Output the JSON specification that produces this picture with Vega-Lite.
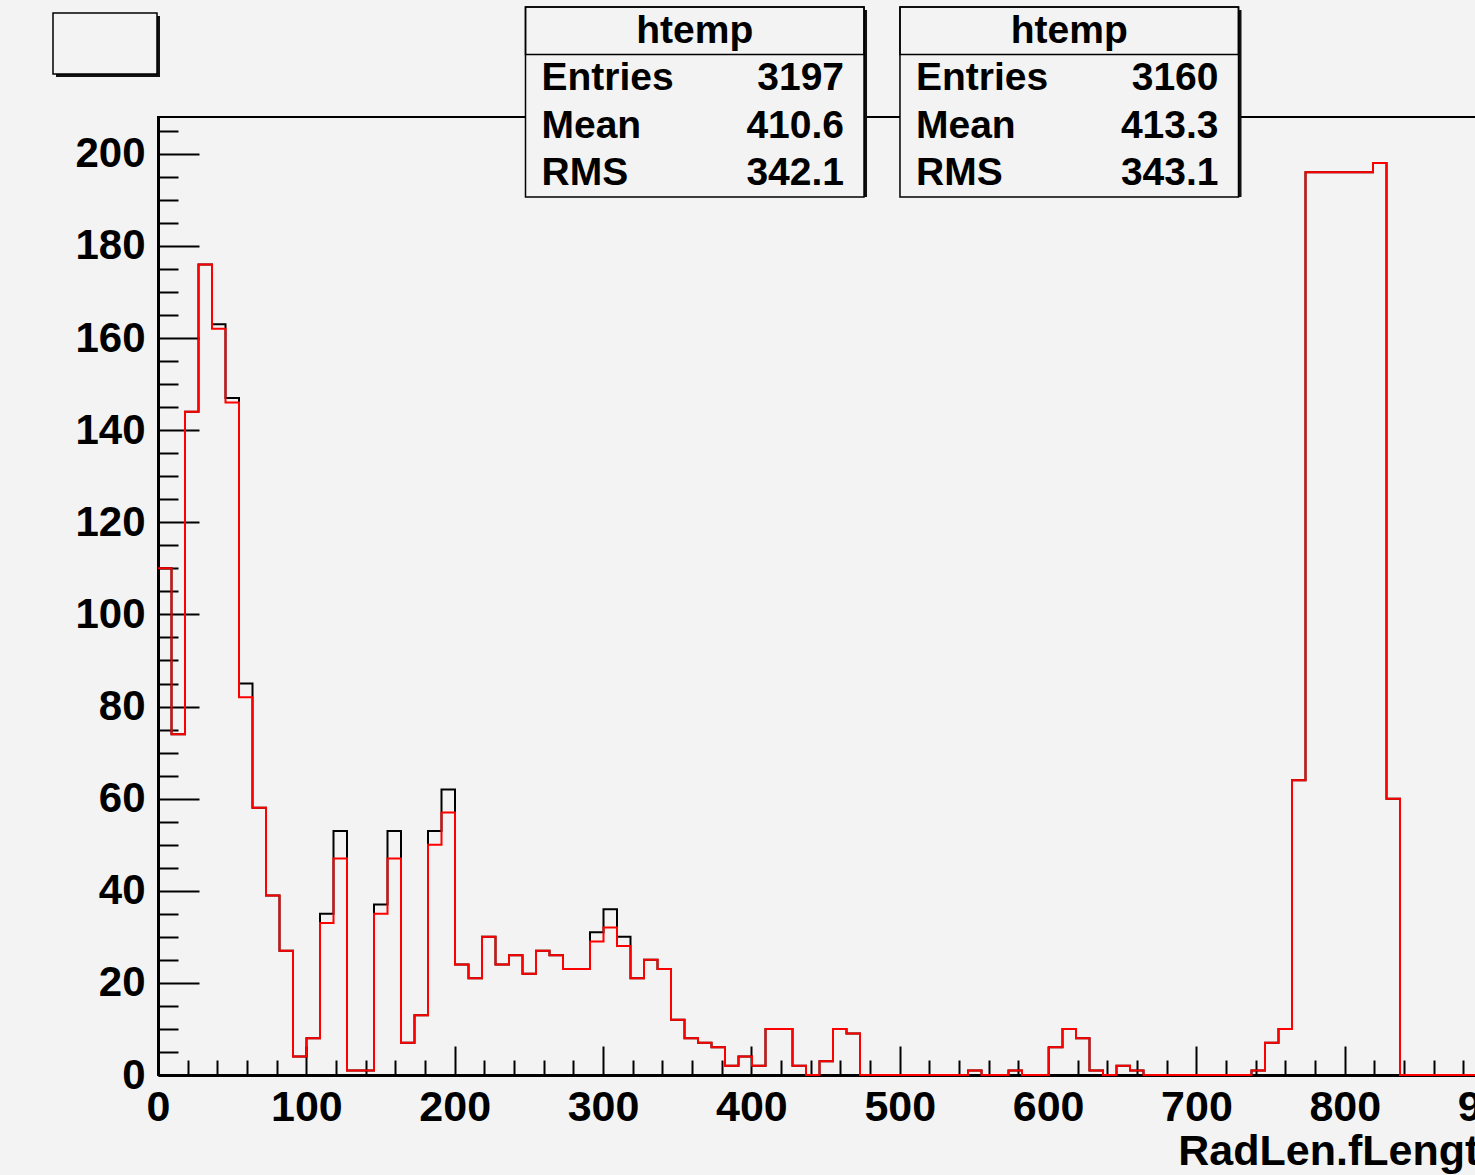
{
  "$schema": "https://vega.github.io/schema/vega-lite/v6.json",
  "autosize": {"type": "none"},
  "padding": {"left": 158, "top": 117, "right": 0, "bottom": 100},
  "width": 1350,
  "height": 958,
  "background": "#f3f3f3",
  "config": {"view": {"stroke": "#000000", "strokeWidth": 2}, "font": "Liberation Sans"},
  "resolve": {"scale": {"x": "independent", "y": "independent"}, "axis": {"x": "independent", "y": "independent"}},
  "layer": [
    {
      "data": {"values": [
        {"x": 0, "black": 110, "red": 110}, {"x": 9.1, "black": 74, "red": 74}, {"x": 18.2, "black": 144, "red": 144},
        {"x": 27.3, "black": 176, "red": 176}, {"x": 36.4, "black": 163, "red": 162}, {"x": 45.5, "black": 147, "red": 146},
        {"x": 54.6, "black": 85, "red": 82}, {"x": 63.7, "black": 58, "red": 58}, {"x": 72.8, "black": 39, "red": 39},
        {"x": 81.9, "black": 27, "red": 27}, {"x": 91, "black": 4, "red": 4}, {"x": 100.1, "black": 8, "red": 8},
        {"x": 109.2, "black": 35, "red": 33}, {"x": 118.3, "black": 53, "red": 47}, {"x": 127.4, "black": 1, "red": 1},
        {"x": 136.5, "black": 1, "red": 1}, {"x": 145.6, "black": 37, "red": 35}, {"x": 154.7, "black": 53, "red": 47},
        {"x": 163.8, "black": 7, "red": 7}, {"x": 172.9, "black": 13, "red": 13}, {"x": 182, "black": 53, "red": 50},
        {"x": 191.1, "black": 62, "red": 57}, {"x": 200.2, "black": 24, "red": 24}, {"x": 209.3, "black": 21, "red": 21},
        {"x": 218.4, "black": 30, "red": 30}, {"x": 227.5, "black": 24, "red": 24}, {"x": 236.6, "black": 26, "red": 26},
        {"x": 245.7, "black": 22, "red": 22}, {"x": 254.8, "black": 27, "red": 27}, {"x": 263.9, "black": 26, "red": 26},
        {"x": 273, "black": 23, "red": 23}, {"x": 282.1, "black": 23, "red": 23}, {"x": 291.2, "black": 31, "red": 29},
        {"x": 300.3, "black": 36, "red": 32}, {"x": 309.4, "black": 30, "red": 28}, {"x": 318.5, "black": 21, "red": 21},
        {"x": 327.6, "black": 25, "red": 25}, {"x": 336.7, "black": 23, "red": 23}, {"x": 345.8, "black": 12, "red": 12},
        {"x": 354.9, "black": 8, "red": 8}, {"x": 364, "black": 7, "red": 7}, {"x": 373.1, "black": 6, "red": 6},
        {"x": 382.2, "black": 2, "red": 2}, {"x": 391.3, "black": 4, "red": 4}, {"x": 400.4, "black": 2, "red": 2},
        {"x": 409.5, "black": 10, "red": 10}, {"x": 418.6, "black": 10, "red": 10}, {"x": 427.7, "black": 2, "red": 2},
        {"x": 436.8, "black": 0, "red": 0}, {"x": 445.9, "black": 3, "red": 3}, {"x": 455, "black": 10, "red": 10},
        {"x": 464.1, "black": 9, "red": 9}, {"x": 473.2, "black": 0, "red": 0}, {"x": 482.3, "black": 0, "red": 0},
        {"x": 491.4, "black": 0, "red": 0}, {"x": 500.5, "black": 0, "red": 0}, {"x": 509.6, "black": 0, "red": 0},
        {"x": 518.7, "black": 0, "red": 0}, {"x": 527.8, "black": 0, "red": 0}, {"x": 536.9, "black": 0, "red": 0},
        {"x": 546, "black": 1, "red": 1}, {"x": 555.1, "black": 0, "red": 0}, {"x": 564.2, "black": 0, "red": 0},
        {"x": 573.3, "black": 1, "red": 1}, {"x": 582.4, "black": 0, "red": 0}, {"x": 591.5, "black": 0, "red": 0},
        {"x": 600.6, "black": 6, "red": 6}, {"x": 609.7, "black": 10, "red": 10}, {"x": 618.8, "black": 8, "red": 8},
        {"x": 627.9, "black": 1, "red": 1}, {"x": 637, "black": 0, "red": 0}, {"x": 646.1, "black": 2, "red": 2},
        {"x": 655.2, "black": 1, "red": 1}, {"x": 664.3, "black": 0, "red": 0}, {"x": 673.4, "black": 0, "red": 0},
        {"x": 682.5, "black": 0, "red": 0}, {"x": 691.6, "black": 0, "red": 0}, {"x": 700.7, "black": 0, "red": 0},
        {"x": 709.8, "black": 0, "red": 0}, {"x": 718.9, "black": 0, "red": 0}, {"x": 728, "black": 0, "red": 0},
        {"x": 737.1, "black": 1, "red": 1}, {"x": 746.2, "black": 7, "red": 7}, {"x": 755.3, "black": 10, "red": 10},
        {"x": 764.4, "black": 64, "red": 64}, {"x": 773.5, "black": 196, "red": 196}, {"x": 782.6, "black": 196, "red": 196},
        {"x": 791.7, "black": 196, "red": 196}, {"x": 800.8, "black": 196, "red": 196}, {"x": 809.9, "black": 196, "red": 196},
        {"x": 819, "black": 198, "red": 198}, {"x": 828.1, "black": 60, "red": 60}, {"x": 837.2, "black": 0, "red": 0},
        {"x": 846.3, "black": 0, "red": 0}, {"x": 855.4, "black": 0, "red": 0}, {"x": 864.5, "black": 0, "red": 0},
        {"x": 873.6, "black": 0, "red": 0}, {"x": 882.7, "black": 0, "red": 0}, {"x": 891.8, "black": 0, "red": 0},
        {"x": 900.9, "black": 0, "red": 0}, {"x": 910, "black": 0, "red": 0}
      ]},
      "transform": [{"fold": ["black", "red"], "as": ["series", "count"]}],
      "encoding": {
        "x": {
          "field": "x", "type": "quantitative",
          "scale": {"domain": [0, 910], "nice": false, "zero": false},
          "axis": {
            "values": [0,20,40,60,80,100,120,140,160,180,200,220,240,260,280,300,320,340,360,380,400,420,440,460,480,500,520,540,560,580,600,620,640,660,680,700,720,740,760,780,800,820,840,860,880,900],
            "labelExpr": "datum.value % 100 === 0 ? datum.label : ''",
            "tickSize": {"condition": {"test": "datum.value % 100 === 0", "value": -29}, "value": -15},
            "tickWidth": 2, "tickColor": "#000000",
            "domainWidth": 3, "domainColor": "#000000",
            "grid": false,
            "labelFont": "Liberation Sans", "labelFontWeight": "bold", "labelFontSize": 43, "labelColor": "#000000",
            "labelPadding": 40, "labelOverlap": false, "labelFlush": false, "labelBound": false,
            "title": "RadLen.fLength",
            "titleFont": "Liberation Sans", "titleFontWeight": "bold", "titleFontSize": 43, "titleColor": "#000000",
            "titleAnchor": "end", "titleAlign": "right", "titleBaseline": "alphabetic",
            "titleX": 1347, "titleY": 89
          }
        },
        "y": {
          "field": "count", "type": "quantitative",
          "scale": {"domain": [0, 208], "nice": false, "zero": true},
          "axis": {
            "values": [0,5,10,15,20,25,30,35,40,45,50,55,60,65,70,75,80,85,90,95,100,105,110,115,120,125,130,135,140,145,150,155,160,165,170,175,180,185,190,195,200,205],
            "labelExpr": "datum.value % 20 === 0 ? datum.label : ''",
            "tickSize": {"condition": {"test": "datum.value % 20 === 0", "value": -41}, "value": -20},
            "tickWidth": 2, "tickColor": "#000000",
            "domainWidth": 3, "domainColor": "#000000",
            "grid": false,
            "labelFont": "Liberation Sans", "labelFontWeight": "bold", "labelFontSize": 42, "labelColor": "#000000",
            "labelPadding": 54, "labelOverlap": false, "labelFlush": false, "labelBound": false,
            "title": null
          }
        }
      },
      "layer": [
        {
          "transform": [{"filter": "datum.series === 'black'"}],
          "mark": {"type": "line", "interpolate": "step-after", "color": "#000000", "strokeWidth": 2}
        },
        {
          "transform": [{"filter": "datum.series === 'red'"}],
          "mark": {"type": "line", "interpolate": "step-after", "color": "#ff0000", "strokeWidth": 2}
        }
      ]
    },
    {
      "data": {"values": [
        {"box": "black", "line": 0, "label": "htemp", "value": ""},
        {"box": "black", "line": 1, "label": "Entries", "value": "3197"},
        {"box": "black", "line": 2, "label": "Mean", "value": "410.6"},
        {"box": "black", "line": 3, "label": "RMS", "value": "342.1"},
        {"box": "red", "line": 0, "label": "htemp", "value": ""},
        {"box": "red", "line": 1, "label": "Entries", "value": "3160"},
        {"box": "red", "line": 2, "label": "Mean", "value": "413.3"},
        {"box": "red", "line": 3, "label": "RMS", "value": "343.1"}
      ]},
      "encoding": {
        "x": {"field": "box", "type": "nominal", "scale": {"domain": ["black", "red"], "range": [367.5, 1080.5], "paddingInner": 0.096, "paddingOuter": 0}, "axis": null}
      },
      "layer": [
        {
          "transform": [{"filter": "datum.line === 0"}],
          "mark": {"type": "rect", "fill": "#111111", "xOffset": 3, "yOffset": 3},
          "encoding": {
            "y": {"datum": -0.5, "type": "quantitative", "scale": {"domain": [-0.5, 3.5], "range": [-110, 80], "nice": false, "zero": false}, "axis": null},
            "y2": {"datum": 3.5}
          }
        },
        {
          "transform": [{"filter": "datum.line === 0"}],
          "mark": {"type": "rect", "fill": "#f3f3f3", "stroke": "#000000", "strokeWidth": 1.5},
          "encoding": {
            "y": {"datum": -0.5, "type": "quantitative", "scale": {"domain": [-0.5, 3.5], "range": [-110, 80], "nice": false, "zero": false}, "axis": null},
            "y2": {"datum": 3.5}
          }
        },
        {
          "transform": [{"filter": "datum.line === 0"}],
          "mark": {"type": "rect", "fill": null, "stroke": "#000000", "strokeWidth": 1.5},
          "encoding": {
            "y": {"datum": -0.5, "type": "quantitative", "scale": {"domain": [-0.5, 3.5], "range": [-110, 80], "nice": false, "zero": false}, "axis": null},
            "y2": {"datum": 0.5}
          }
        },
        {
          "transform": [{"filter": "datum.line === 0"}],
          "mark": {"type": "text", "align": "center", "baseline": "middle", "font": "Liberation Sans", "fontWeight": "bold", "fontSize": 39, "color": "#000000"},
          "encoding": {
            "x": {"field": "box", "type": "nominal", "bandPosition": 0.5},
            "y": {"field": "line", "type": "quantitative", "scale": {"domain": [-0.5, 3.5], "range": [-110, 80], "nice": false, "zero": false}, "axis": null},
            "text": {"field": "label", "type": "nominal"}
          }
        },
        {
          "transform": [{"filter": "datum.line > 0"}],
          "mark": {"type": "text", "align": "left", "baseline": "middle", "dx": 16, "font": "Liberation Sans", "fontWeight": "bold", "fontSize": 39, "color": "#000000"},
          "encoding": {
            "x": {"field": "box", "type": "nominal", "bandPosition": 0},
            "y": {"field": "line", "type": "quantitative", "scale": {"domain": [-0.5, 3.5], "range": [-110, 80], "nice": false, "zero": false}, "axis": null},
            "text": {"field": "label", "type": "nominal"}
          }
        },
        {
          "transform": [{"filter": "datum.line > 0"}],
          "mark": {"type": "text", "align": "right", "baseline": "middle", "dx": -20, "font": "Liberation Sans", "fontWeight": "bold", "fontSize": 39, "color": "#000000"},
          "encoding": {
            "x": {"field": "box", "type": "nominal", "bandPosition": 1},
            "y": {"field": "line", "type": "quantitative", "scale": {"domain": [-0.5, 3.5], "range": [-110, 80], "nice": false, "zero": false}, "axis": null},
            "text": {"field": "value", "type": "nominal"}
          }
        }
      ]
    },
    {
      "data": {"values": [{"pave": "title"}]},
      "encoding": {
        "x": {"field": "pave", "type": "nominal", "scale": {"domain": ["title"], "range": [-105, -1], "paddingInner": 0, "paddingOuter": 0}, "axis": null},
        "y": {"field": "pave", "type": "nominal", "scale": {"domain": ["title"], "range": [-104, -43], "paddingInner": 0, "paddingOuter": 0}, "axis": null}
      },
      "layer": [
        {"mark": {"type": "rect", "fill": "#111111", "xOffset": 3, "yOffset": 3}},
        {"mark": {"type": "rect", "fill": "#f3f3f3", "stroke": "#000000", "strokeWidth": 1.5}}
      ]
    }
  ]
}
